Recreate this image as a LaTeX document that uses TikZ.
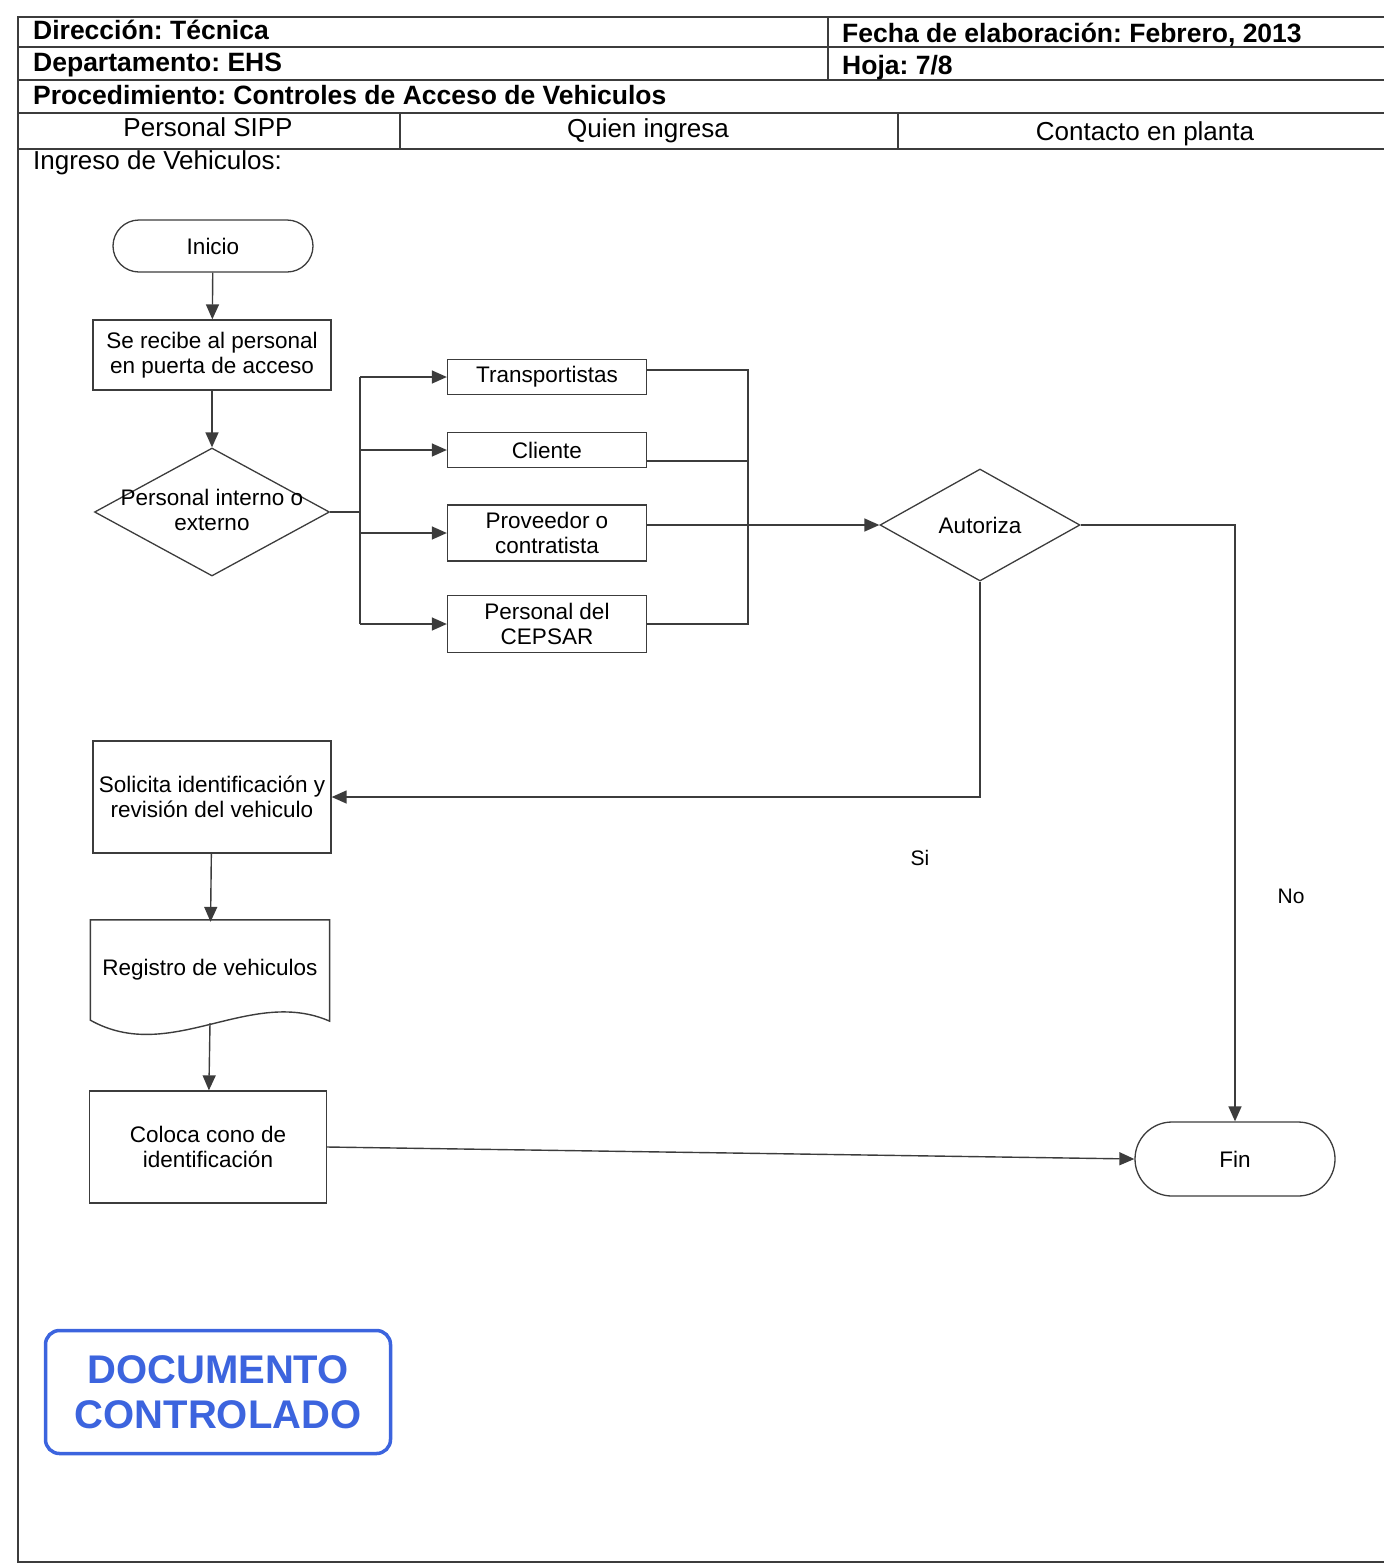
\documentclass[tikz,border=0pt]{standalone}
\usepackage{fontspec}
\setmainfont{Liberation Sans}
\usetikzlibrary{shapes.geometric, arrows.meta, positioning, calc}
\definecolor{stampblue}{RGB}{60,100,222}
\definecolor{ink}{RGB}{60,60,60}
\frenchspacing

\begin{document}
\begin{tikzpicture}[x=1pt, y=-1pt,
    box/.style={draw=ink, line width=1.3pt, align=center, inner sep=0pt,
        font=\fontsize{22.5}{25}\selectfont},
    term/.style={box, rounded corners=26pt, minimum width=200pt, minimum height=52pt},
    proc/.style={box, minimum width=238pt},
    opt/.style={box, minimum width=199pt, minimum height=35pt},
    decision/.style={box, diamond},
    flow/.style={draw=ink, line width=1.4pt, -{Triangle[length=15pt, width=13pt]}},
    link/.style={draw=ink, line width=1.4pt},
    hdr/.style={anchor=base west, inner sep=0pt, font=\bfseries\fontsize{26.5}{28}\selectfont},
    lane/.style={anchor=base, inner sep=0pt, font=\fontsize{26}{28}\selectfont},
    tag/.style={inner sep=0pt, font=\fontsize{21}{24}\selectfont}
]
\useasboundingbox (0,0) rectangle (1384,1566);

% Page frame and header table
\draw[ink, line width=1.8pt] (1384,17) -- (18,17) -- (18,1562) -- (1384,1562);
\draw[ink, line width=1.6pt] (18,47) -- (1384,47);
\draw[ink, line width=1.6pt] (18,80) -- (1384,80);
\draw[ink, line width=1.6pt] (18,113) -- (1384,113);
\draw[ink, line width=1.6pt] (18,149) -- (1384,149);
\draw[ink, line width=1.6pt] (828,17) -- (828,80);
\draw[ink, line width=1.6pt] (400,113) -- (400,149);
\draw[ink, line width=1.6pt] (898,113) -- (898,149);

\node[hdr] (direccion) at (33,39) {Dirección: Técnica};
\node[hdr] (depto) at (33,71) {Departamento: EHS};
\node[hdr] (proced) at (33,104) {Procedimiento: Controles de Acceso de Vehiculos};
\node[hdr] (fecha) at (842,42) {Fecha de elaboración: Febrero, 2013};
\node[hdr] (hoja) at (842,74) {Hoja: 7/8};

% Lanes
\node[lane] (sipp) at (208,136) {Personal SIPP};
\node[lane] (quien) at (648,137) {Quien ingresa};
\node[lane] (contacto) at (1145,140) {Contacto en planta};
\node[lane, anchor=base west] (ingreso) at (33,169) {Ingreso de Vehiculos:};

% Flow nodes
\node[term] (inicio) at (213,246) {Inicio};
\node[proc, minimum height=70pt] (recibe) at (212,355) {Se recibe al personal\\en puerta de acceso};
\node[decision, minimum width=235pt, minimum height=128pt] (tipo) at (212,512) {};
\node[box, draw=none] (tipotxt) at (212,510) {Personal interno o\\externo};

\node[opt] (transp) at (547,377) {Transportistas};
\node[opt] (cliente) at (547,450) {Cliente};
\node[opt, minimum height=56pt] (prov) at (547,533) {Proveedor o\\contratista};
\node[opt, minimum height=57pt] (cepsar) at (547,624) {Personal del\\CEPSAR};

\node[decision, minimum width=200pt, minimum height=112pt] (autoriza) at (980,525) {Autoriza};

\node[proc, minimum height=112pt] (solicita) at (212,797) {Solicita identificación y\\revisión del vehiculo};
\node[box, draw=none, minimum width=238pt, minimum height=95pt] (registro) at (210,970) {Registro de vehiculos};
\node[proc, minimum width=237pt, minimum height=112pt] (coloca) at (208,1147) {Coloca cono de\\identificación};
\node[term, minimum height=74pt, rounded corners=37pt] (fin) at (1235,1159) {Fin};

% Document outline
\draw[link] ($(registro.north west)+(0,-2)$) -- ($(registro.north east)+(0,-2)$)
    -- ($(registro.south east)+(0,3)$)
    .. controls +(-80,-35) and +(80,45) .. ($(registro.south west)+(0,2)$) -- cycle;

% Connectors
\draw[flow] (inicio) -- (recibe);
\draw[flow] (recibe) -- (tipo);

\coordinate (split) at (360,512);
\draw[link] (tipo.east) -- (split);
\draw[link] (split |- transp) -- (split |- cepsar);
\foreach \n in {transp, cliente, prov, cepsar}
    \draw[flow] (split |- \n) -- (\n);

\coordinate (merge) at (748,525);
\draw[link] ($(transp.east)+(0,-7)$) -| (merge |- cepsar.east) -- (cepsar.east);
\draw[link] ($(cliente.east)+(0,11)$) -- ++(101,0);
\draw[link] (prov.east |- merge) -- (merge);
\draw[flow] (merge) -- (autoriza.west);

\draw[flow] (autoriza.south) |- (solicita.east);
\draw[flow] (autoriza.east) -| (fin.north);
\draw[flow] (solicita) -- (registro);
\draw[flow] ($(registro.south)+(0,5)$) -- (coloca);
\draw[flow] (coloca.east) -- (fin.west);

% Labels
\node[tag] (si) at (920,858) {Si};
\node[tag] (no) at (1291,896) {No};

% Stamp
\node[draw=stampblue, text=stampblue, line width=3.5pt, rounded corners=14pt,
      minimum width=345pt, minimum height=123pt, align=center,
      font=\bfseries\fontsize{40}{45}\selectfont] (sello) at (218,1392)
      {DOCUMENTO\\CONTROLADO};
\end{tikzpicture}
\end{document}
